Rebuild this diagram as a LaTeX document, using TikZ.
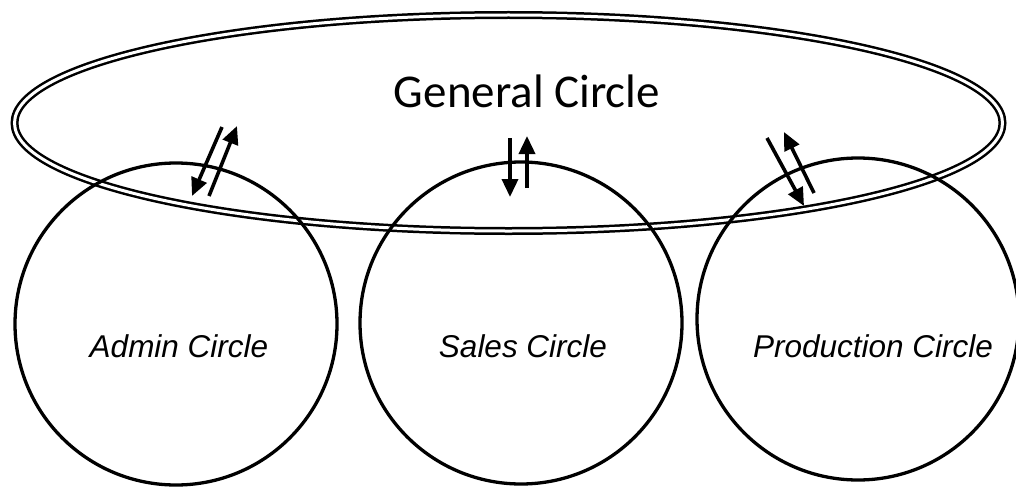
\documentclass[tikz,border=0pt]{standalone}
\usepackage{fontspec}
\setmainfont{Liberation Sans}
\newfontfamily\calibrifont{Carlito}
\usetikzlibrary{shapes.geometric,arrows.meta}
\begin{document}
\begin{tikzpicture}[x=1pt,y=-1pt,
  ring/.style={circle,draw,line width=3.3pt,minimum size=322pt,inner sep=0pt},
  bigring/.style={ellipse,draw,double,line width=2.5pt,double distance=3pt,minimum width=988pt,minimum height=216pt,inner sep=0pt},
  flow/.style={line width=3.6pt,-{Triangle[length=18pt,width=16pt]}},
  lbl/.style={font=\itshape\fontsize{31.5}{36}\selectfont},
  glbl/.style={font=\calibrifont\fontsize{47}{54}\selectfont}]
\useasboundingbox (0,0) rectangle (1016,487);
\node[bigring] (gen) at (508.5,123) {};
\node[glbl] (gentext) at (527,91) {General Circle};
\node[ring] (admin) at (176,324) {};
\node[ring] (sales) at (521,323) {};
\node[ring] (prod) at (858,319) {};
\node[lbl] (admintext) at (179,346) {Admin Circle};
\node[lbl] (salestext) at (523,346) {Sales Circle};
\node[lbl] (prodtext) at (873,346) {Production Circle};
% admin arrows
\coordinate (a1s) at (222,127); \coordinate (a1e) at (192,196);
\coordinate (a2s) at (209,196); \coordinate (a2e) at (237,126);
\draw[flow] (a1s) -- (a1e);
\draw[flow] (a2s) -- (a2e);
% sales arrows
\coordinate (s1s) at (510,138); \coordinate (s1e) at (510,197);
\coordinate (s2s) at (527,188); \coordinate (s2e) at (527,136);
\draw[flow] (s1s) -- (s1e);
\draw[flow] (s2s) -- (s2e);
% production arrows
\coordinate (p1s) at (767,138); \coordinate (p1e) at (804,206);
\coordinate (p2s) at (814,193); \coordinate (p2e) at (784,132);
\draw[flow] (p1s) -- (p1e);
\draw[flow] (p2s) -- (p2e);
\end{tikzpicture}
\end{document}
